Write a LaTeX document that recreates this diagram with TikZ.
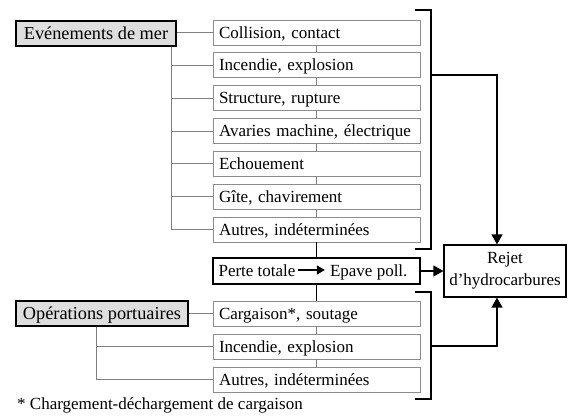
\documentclass[tikz,border=0pt]{standalone}
\usepackage{fontspec}
\setmainfont{Liberation Serif}
\usetikzlibrary{arrows.meta}
\definecolor{boxgray}{gray}{0.55}
\definecolor{linegray}{gray}{0.5}
\definecolor{catfill}{gray}{0.87}
\begin{document}
\begin{tikzpicture}[x=1pt,y=-1pt,
  every node/.style={font=\fontsize{17}{22}\selectfont},
  item/.style={draw=boxgray, line width=0.8pt, minimum height=25pt, text width=195pt,
    inner xsep=6pt, inner ysep=0pt, align=left, text height=11.3pt, text depth=0pt},
  cat/.style={draw=black, fill=catfill, line width=1.2pt, minimum height=25pt, inner sep=0pt,
    font=\fontsize{18.3}{22}\selectfont, text height=12.1pt, text depth=0pt},
  perte/.style={draw=black, line width=1.3pt, minimum width=207pt, minimum height=26pt, inner sep=0pt},
  ptxt/.style={inner sep=0pt, text height=11.3pt, text depth=0pt},
  conn/.style={draw=linegray, line width=0.8pt},
  brk/.style={draw=black, line width=1.3pt},
  arr/.style={draw=black, line width=1.3pt, -{Triangle[length=10pt,width=11pt]}},
  arrs/.style={draw=black, line width=1.1pt, -{Triangle[length=8pt,width=9pt]}}
]
\useasboundingbox (0,0) rectangle (575,418);

% upper group
\node[item] (c1) at (316.5,32.5) {Collision, contact};
\node[item] (c2) at (316.5,65.3) {Incendie, explosion};
\node[item] (c3) at (316.5,98.2) {Structure, rupture};
\node[item] (c4) at (316.5,131) {Avaries machine, électrique};
\node[item] (c5) at (316.5,163.8) {Echouement};
\node[item] (c6) at (316.5,196.7) {Gîte, chavirement};
\node[item] (c7) at (316.5,229.5) {Autres, indéterminées};

\node[perte] (pt) at (316.5,271) {};
\node[ptxt, anchor=west] (pt1) at ([xshift=6pt]pt.west) {Perte totale};
\node[ptxt, anchor=east] (pt2) at ([xshift=-13pt]pt.east) {Epave poll.};
\draw[arrs] ([xshift=2pt,yshift=1pt]pt1.east) -- ([xshift=-5pt,yshift=1pt]pt2.west);

% lower group
\node[item] (l1) at (316.5,313.5) {Cargaison*, soutage};
\node[item] (l2) at (316.5,346.5) {Incendie, explosion};
\node[item] (l3) at (316.5,379.5) {Autres, indéterminées};

% vertical links between boxes
\foreach \a/\b in {c1/c2,c2/c3,c3/c4,c4/c5,c5/c6,c6/c7,l1/l2,l2/l3}
  \draw[conn] (\a.south) -- (\b.north);
\draw[brk] (c7.south) -- (pt.north);
\draw[brk] (pt.south) -- (l1.north);

% categories
\node[cat, minimum width=160pt] (ev) at (96,33.5) {Evénements de mer};
\node[cat, minimum width=172pt] (op) at (102,313.5) {Opérations portuaires};

\draw[conn] (ev.east |- c1.west) -- (c1.west);
\foreach \n in {c2,c3,c4,c5,c6,c7}
  \draw[conn] ([xshift=-5pt]ev.south east) |- (\n.west);
\draw[conn] (op.east) -- (l1.west);
\foreach \n in {l2,l3}
  \draw[conn] ([xshift=-6pt]op.south) |- (\n.west);

% result
\node[draw=black, line width=1.2pt, minimum width=122pt, minimum height=52pt, align=center, inner sep=0pt]
  (rj) at (505,271) {Rejet\\d'hydrocarbures};

% brackets
\draw[brk] (415,10) -- (431,10) -- (431,249) -- (415,249);
\draw[brk] (415,292) -- (431,292) -- (431,399) -- (415,399);
\coordinate (ua) at (431,75);
\coordinate (la) at (431,346);
\draw[arr] (ua) -| ([xshift=-8pt]rj.north);
\draw[arr] (la) -| ([xshift=-8pt]rj.south);
\draw[arr] (pt.east) -- (rj.west);

% footnote
\node[anchor=west, inner sep=0pt] (fn) at (17,405) {* Chargement-déchargement de cargaison};
\end{tikzpicture}
\end{document}
